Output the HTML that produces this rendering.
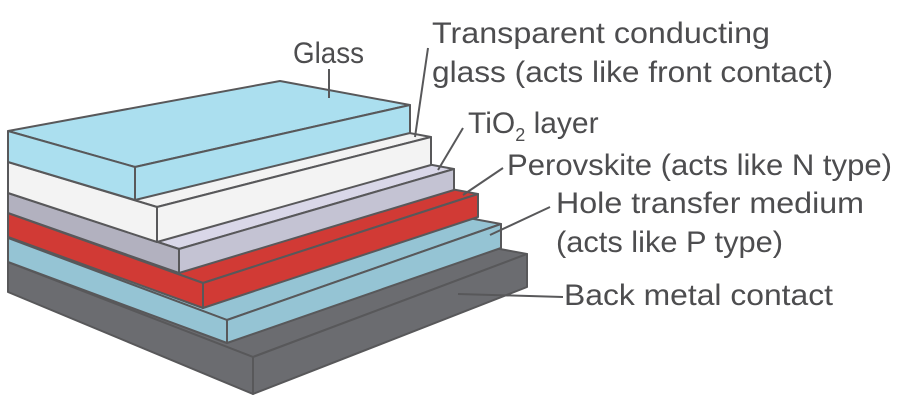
<!DOCTYPE html>
<html><head><meta charset="utf-8"><style>
html,body{margin:0;padding:0;background:#fff;}
svg{display:block}
text{font-family:"Liberation Sans",sans-serif;fill:#4d4d4f;font-size:30px}
</style></head><body>
<svg width="902" height="408" viewBox="0 0 902 408" xmlns="http://www.w3.org/2000/svg">
<g stroke="#58585a" stroke-width="2" stroke-linejoin="round">
<polygon points="8,262 397,230 527,254 253,357" fill="#6b6c70"/>
<polygon points="8,262 253,357 253,394 8,292" fill="#6b6c70"/>
<polygon points="253,357 527,254 527,287 253,394" fill="#6b6c70"/>
<polygon points="8,238 371,200 501,224 227,320" fill="#95c4d4"/>
<polygon points="8,238 227,320 227,343 8,262" fill="#95c4d4"/>
<polygon points="227,320 501,224 501,248 227,343" fill="#95c4d4"/>
<polygon points="8,213 348,170 478,194 203,283" fill="#d13a35"/>
<polygon points="8,213 203,283 203,308 8,237" fill="#d13a35"/>
<polygon points="203,283 478,194 478,217 203,308" fill="#d13a35"/>
<polygon points="8,193 324,145 454,169 179,249" fill="#d9d7e8"/>
<polygon points="8,193 179,249 179,273 8,213" fill="#b2b1bf"/>
<polygon points="179,249 454,169 454,190 179,273" fill="#c4c3d3"/>
<polygon points="8,162 301,113 431,137 157,207" fill="#f3f3f3"/>
<polygon points="8,162 157,207 157,242 8,193" fill="#f3f3f3"/>
<polygon points="157,207 431,137 431,165 157,242" fill="#f3f3f3"/>
<polygon points="8,131 280,81 410,105 135,167" fill="#abdfef"/>
<polygon points="8,131 135,167 135,200 8,162" fill="#abdfef"/>
<polygon points="135,167 410,105 410,133 135,200" fill="#abdfef"/>
</g>
<g stroke="#58585a" stroke-width="2" fill="none">
<line x1="329" y1="69" x2="329" y2="98"/>
<line x1="428" y1="48" x2="415" y2="137"/>
<line x1="463" y1="128" x2="438" y2="170"/>
<line x1="503" y1="168" x2="463" y2="195"/>
<line x1="550" y1="207" x2="490" y2="235"/>
<line x1="458" y1="294" x2="563" y2="297"/>
</g>
<text x="293" y="63" textLength="71" lengthAdjust="spacingAndGlyphs">Glass</text>
<text x="432" y="43" textLength="338" lengthAdjust="spacingAndGlyphs">Transparent conducting</text>
<text x="432" y="82" textLength="401" lengthAdjust="spacingAndGlyphs">glass (acts like front contact)</text>
<text x="468" y="133">TiO<tspan font-size="18" dy="8">2</tspan><tspan dy="-8"> layer</tspan></text>
<text x="507" y="175" textLength="385" lengthAdjust="spacingAndGlyphs">Perovskite (acts like N type)</text>
<text x="556" y="213" textLength="308" lengthAdjust="spacingAndGlyphs">Hole transfer medium</text>
<text x="556" y="252" textLength="227" lengthAdjust="spacingAndGlyphs">(acts like P type)</text>
<text x="564" y="305" textLength="269" lengthAdjust="spacingAndGlyphs">Back metal contact</text>
</svg>
</body></html>
